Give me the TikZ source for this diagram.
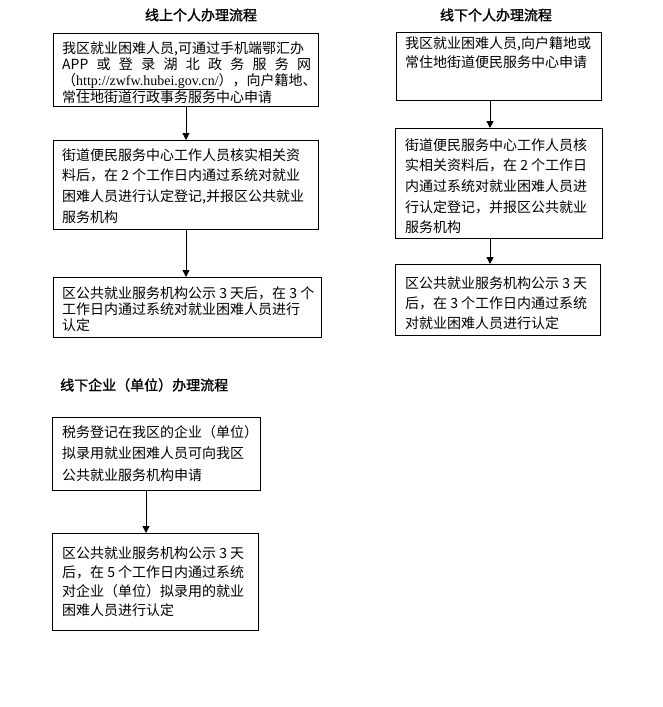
\documentclass[tikz,border=0pt]{standalone}
\usepackage{fontspec}
\setmainfont{Noto Sans CJK SC}
\newfontfamily\urlfont{Liberation Serif}
\newfontfamily\titlefont[FakeBold=1.5]{Noto Sans CJK SC}
\usetikzlibrary{arrows.meta}
\tikzset{
  box/.style={draw=black, line width=1pt, inner sep=0pt},
  txt/.style={anchor=base west, inner sep=0pt},
  ttl/.style={inner sep=0pt, font=\titlefont\fontsize{14}{16}\selectfont},
  arr/.style={draw=black, line width=1pt, -{Triangle[length=7pt,width=7pt]}}
}
\newcommand{\tb}[3]{\parbox[t]{#1pt}{\fontsize{14}{#2}\selectfont #3}}
\begin{document}
\begin{tikzpicture}[x=1pt,y=-1pt]
\useasboundingbox (0,0) rectangle (662,707);
% titles
\node[ttl] (ta) at (201,15) {线上个人办理流程};
\node[ttl] (tb) at (496,15) {线下个人办理流程};
\node[ttl, anchor=west] (tc) at (60,385) {线下企业（单位）办理流程};
% boxes
\node[box, fit/.style={}, minimum width=265pt, minimum height=73pt, anchor=north west] (a1) at (53,33) {};
\node[box, minimum width=265pt, minimum height=89pt, anchor=north west] (a2) at (53,140) {};
\node[box, minimum width=268pt, minimum height=60pt, anchor=north west] (a3) at (53,277) {};
\node[box, minimum width=205pt, minimum height=68pt, anchor=north west] (b1) at (396,32) {};
\node[box, minimum width=207pt, minimum height=110pt, anchor=north west] (b2) at (395,128) {};
\node[box, minimum width=205pt, minimum height=71pt, anchor=north west] (b3) at (395,264) {};
\node[box, minimum width=208pt, minimum height=73pt, anchor=north west] (c1) at (52,417) {};
\node[box, minimum width=206pt, minimum height=97pt, anchor=north west] (c2) at (52,533) {};
% texts
\node[txt] (a1t) at (62,53) {\tb{300}{16}{我区就业困难人员,可通过手机端鄂汇办\\
\makebox[249pt][s]{APP 或 登 录 湖 北 政 务 服 务 网}\\
（{\urlfont\underline{http://zwfw.hubei.gov.cn/}}），向户籍地、\\
常住地街道行政事务服务中心申请}};
\node[txt] (a2t) at (62,160) {\tb{300}{20.8}{街道便民服务中心工作人员核实相关资\\
料后，在 2 个工作日内通过系统对就业\\
困难人员进行认定登记,并报区公共就业\\
服务机构}};
\node[txt] (a3t) at (62,298) {\tb{300}{16}{区公共就业服务机构公示 3 天后，在 3 个\\
工作日内通过系统对就业困难人员进行\\
认定}};
\node[txt] (b1t) at (405,48) {\tb{250}{19}{我区就业困难人员,向户籍地或\\
常住地街道便民服务中心申请}};
\node[txt] (b2t) at (405,150) {\tb{250}{20.7}{街道便民服务中心工作人员核\\
实相关资料后，在 2 个工作日\\
内通过系统对就业困难人员进\\
行认定登记，并报区公共就业\\
服务机构}};
\node[txt] (b3t) at (405,288) {\tb{250}{20}{区公共就业服务机构公示 3 天\\
后，在 3 个工作日内通过系统\\
对就业困难人员进行认定}};
\node[txt] (c1t) at (62,437) {\tb{250}{21.5}{税务登记在我区的企业（单位）\\
拟录用就业困难人员可向我区\\
公共就业服务机构申请}};
\node[txt] (c2t) at (62,558) {\tb{250}{19}{区公共就业服务机构公示 3 天\\
后，在 5 个工作日内通过系统\\
对企业（单位）拟录用的就业\\
困难人员进行认定}};
% arrows
\coordinate (ax) at (186,0);
\coordinate (bx) at (490,0);
\coordinate (cx) at (146,0);
\draw[arr] (a1.south -| ax) -- (a2.north -| ax);
\draw[arr] (a2.south -| ax) -- (a3.north -| ax);
\draw[arr] (b1.south -| bx) -- (b2.north -| bx);
\draw[arr] (b2.south -| bx) -- (b3.north -| bx);
\draw[arr] (c1.south -| cx) -- (c2.north -| cx);
\end{tikzpicture}
\end{document}
